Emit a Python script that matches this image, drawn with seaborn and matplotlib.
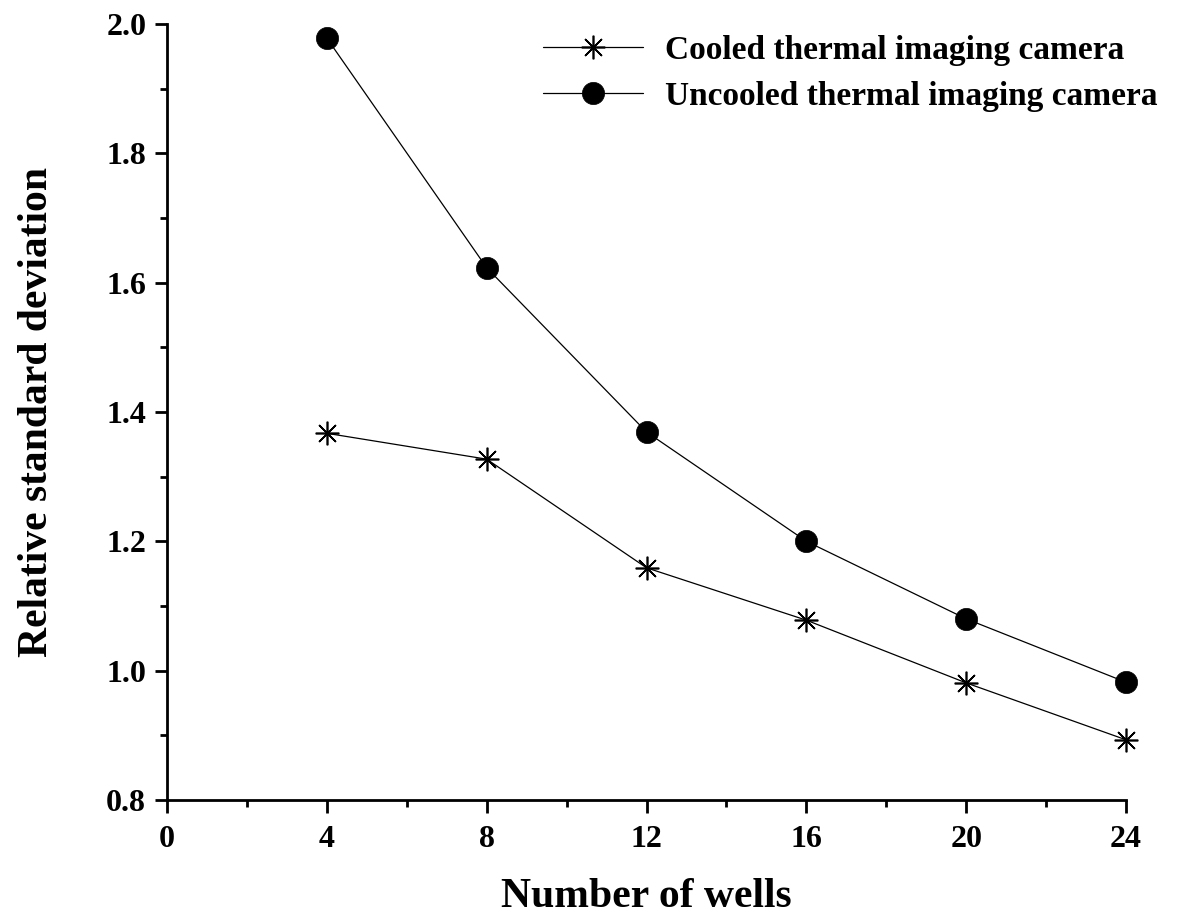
import matplotlib
matplotlib.use("Agg")
import matplotlib.pyplot as plt
from matplotlib.ticker import MultipleLocator
import numpy as np
import pandas as pd
import seaborn as sns

# Measured relative standard deviation versus number of wells
wells = [4, 8, 12, 16, 20, 24]
cooled_rsd = [1.367, 1.327, 1.159, 1.078, 0.981, 0.893]
uncooled_rsd = [1.978, 1.623, 1.369, 1.200, 1.080, 0.982]
series_names = ["Cooled thermal imaging camera", "Uncooled thermal imaging camera"]
x_ticks = [0, 4, 8, 12, 16, 20, 24]
y_ticks = [0.8, 1.0, 1.2, 1.4, 1.6, 1.8, 2.0]

sns.set_theme(style="ticks")
plt.rcParams["font.family"] = ["Liberation Serif", "DejaVu Serif"]
plt.rcParams["font.weight"] = "bold"
plt.rcParams["text.color"] = "black"
plt.rcParams["axes.labelcolor"] = "black"
plt.rcParams["xtick.color"] = "black"
plt.rcParams["ytick.color"] = "black"

df = pd.DataFrame({
    "wells": wells * 2,
    "rsd": cooled_rsd + uncooled_rsd,
    "camera": [series_names[0]] * len(wells) + [series_names[1]] * len(wells),
})

fig = plt.figure(figsize=(11.86, 9.21), dpi=100)
ax = fig.add_axes([0.1408, 0.1314, 0.9495 - 0.1408, 0.974 - 0.1314])

styles = {
    series_names[0]: dict(marker=(8, 2, 0), markersize=17, markeredgewidth=1.2),
    series_names[1]: dict(marker="o", markersize=16, markeredgewidth=0.5),
}
for name in series_names:
    sub = df[df["camera"] == name]
    sns.lineplot(data=sub, x="wells", y="rsd", ax=ax, color="black", lw=0.9,
                 markeredgecolor="black", markerfacecolor="black",
                 label=name, clip_on=False, **styles[name])

ax.set_xlim(0, 24)
ax.set_ylim(0.8, 2.0)
ax.xaxis.set_minor_locator(MultipleLocator(2))
ax.yaxis.set_minor_locator(MultipleLocator(0.1))
ax.set_xticks(x_ticks)
ax.set_xticklabels([str(v) for v in x_ticks])
ax.set_yticks(y_ticks)
ax.set_yticklabels([f"{v:.1f}" for v in y_ticks])

for side in ["top", "right"]:
    ax.spines[side].set_visible(False)
for side in ["left", "bottom"]:
    ax.spines[side].set_linewidth(2.0)
    ax.spines[side].set_color("black")

ax.tick_params(axis="both", which="major", direction="out", length=9, width=2.0,
               labelsize=23, colors="black")
ax.tick_params(axis="x", which="major", pad=9)
ax.tick_params(axis="y", which="major", pad=6)
ax.tick_params(axis="both", which="minor", direction="out", length=5, width=2.0,
               colors="black")
for lab in ax.get_xticklabels() + ax.get_yticklabels():
    lab.set_fontweight("bold")
    lab.set_color("black")

ax.set_xlabel("Number of wells", fontsize=30, fontweight="bold", labelpad=17,
              color="black")
ax.set_ylabel("Relative standard deviation", fontsize=30, fontweight="bold",
              labelpad=36, color="black")

leg = ax.legend(loc="upper right", bbox_to_anchor=(1.064, 1.025), frameon=False,
                handlelength=3.0, handletextpad=0.65, labelspacing=0.45,
                prop={"weight": "bold", "size": 24})
for t in leg.get_texts():
    t.set_color("black")

fig.savefig("out.png", dpi=100)
